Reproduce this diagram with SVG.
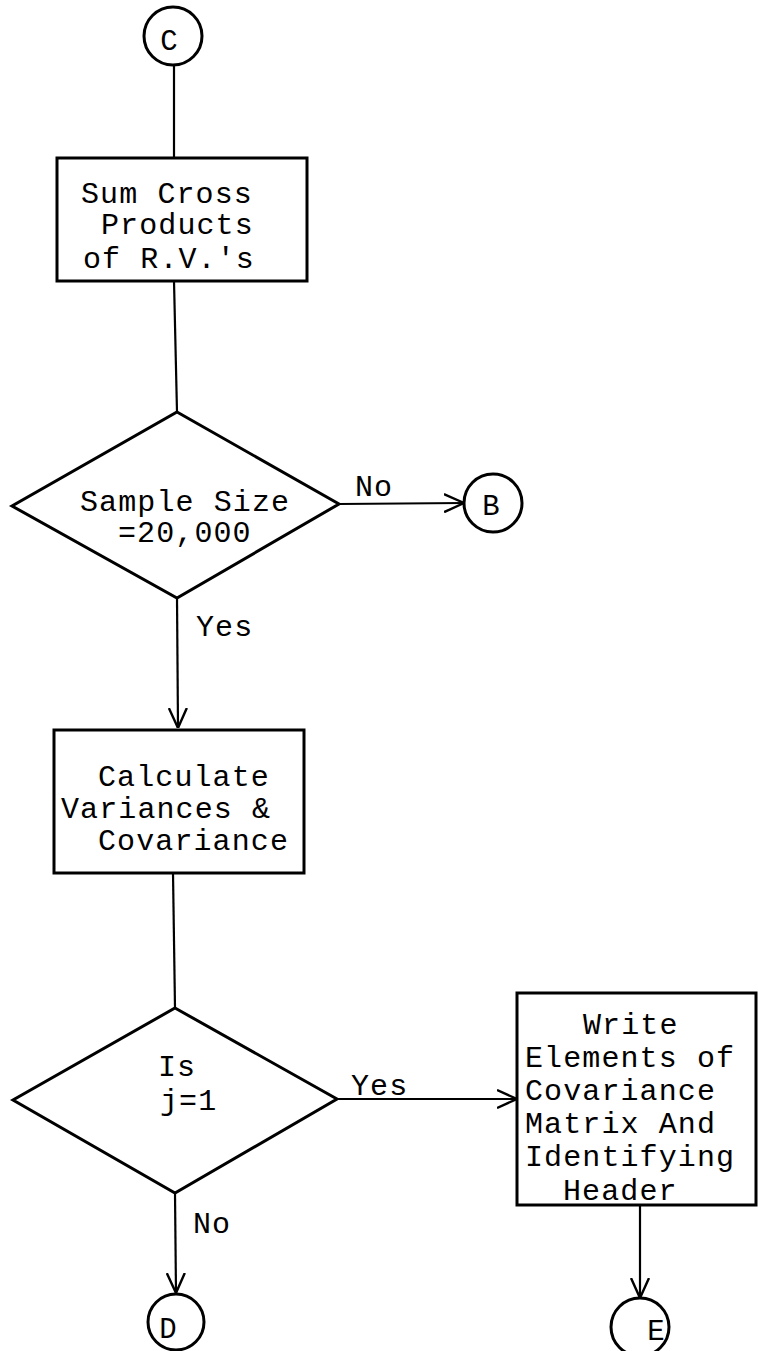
<svg xmlns="http://www.w3.org/2000/svg" width="758" height="1351" viewBox="0 0 758 1351">
<style>
.shape{fill:none;stroke:#000;stroke-width:3;stroke-linejoin:miter}
.conn{fill:none;stroke:#000;stroke-width:2.2}
text{font-family:"Liberation Mono","Courier New",monospace;font-size:30px;letter-spacing:1.1px;fill:#000}
.c{text-anchor:middle;letter-spacing:0;font-size:29px}
</style>
<defs>
<marker id="arr" viewBox="0 0 20 20" refX="20" refY="10" markerWidth="20" markerHeight="20" markerUnits="userSpaceOnUse" orient="auto">
<path d="M0,1 L20,10 L0,19" fill="none" stroke="#000" stroke-width="2.4"/>
</marker>
</defs>
<rect width="758" height="1351" fill="#fff"/>
<g id="connectors">
<line class="conn" x1="174" y1="65" x2="174" y2="158"/>
<line class="conn" x1="174" y1="281" x2="177" y2="412"/>
<line class="conn" x1="339" y1="504" x2="464" y2="503" marker-end="url(#arr)"/>
<line class="conn" x1="177" y1="598" x2="178" y2="728" marker-end="url(#arr)"/>
<line class="conn" x1="173" y1="873" x2="175" y2="1008"/>
<line class="conn" x1="337" y1="1099" x2="517" y2="1099" marker-end="url(#arr)"/>
<line class="conn" x1="175" y1="1193" x2="176" y2="1293" marker-end="url(#arr)"/>
<line class="conn" x1="640" y1="1205" x2="640" y2="1298" marker-end="url(#arr)"/>
<text x="355" y="496">No</text>
<text x="196" y="636">Yes</text>
<text x="351" y="1095">Yes</text>
<text x="193" y="1233">No</text>
</g>
<g id="node-C">
<circle class="shape" cx="173" cy="36" r="29"/>
<text class="c" x="169" y="50">C</text>
</g>
<g id="node-sum">
<rect class="shape" x="57" y="158" width="250" height="123"/>
<text x="81" y="203">Sum Cross</text>
<text x="101" y="234">Products</text>
<text x="83" y="268">of R.V.'s</text>
</g>
<g id="node-sample">
<polygon class="shape" points="177,412 339,504 177,598 12,506"/>
<text x="80" y="511">Sample Size</text>
<text x="118" y="542">=20,000</text>
</g>
<g id="node-B">
<circle class="shape" cx="493" cy="503" r="29"/>
<text class="c" x="491" y="515">B</text>
</g>
<g id="node-calc">
<rect class="shape" x="54" y="730" width="250" height="143"/>
<text x="98" y="786">Calculate</text>
<text x="61" y="818">Variances &amp;</text>
<text x="98" y="850">Covariance</text>
</g>
<g id="node-isj">
<polygon class="shape" points="175,1008 337,1099 175,1193 13,1100"/>
<text x="158" y="1076">Is</text>
<text x="160" y="1110">j=1</text>
</g>
<g id="node-write">
<rect class="shape" x="517" y="993" width="239" height="212"/>
<text x="583" y="1034">Write</text>
<text x="525" y="1067">Elements of</text>
<text x="525" y="1100">Covariance</text>
<text x="525" y="1133">Matrix And</text>
<text x="525" y="1166">Identifying</text>
<text x="563" y="1200">Header</text>
</g>
<g id="node-D">
<circle class="shape" cx="176" cy="1322" r="28"/>
<text class="c" x="168" y="1338">D</text>
</g>
<g id="node-E">
<circle class="shape" cx="640" cy="1327" r="29"/>
<text class="c" x="656" y="1340">E</text>
</g>
</svg>
